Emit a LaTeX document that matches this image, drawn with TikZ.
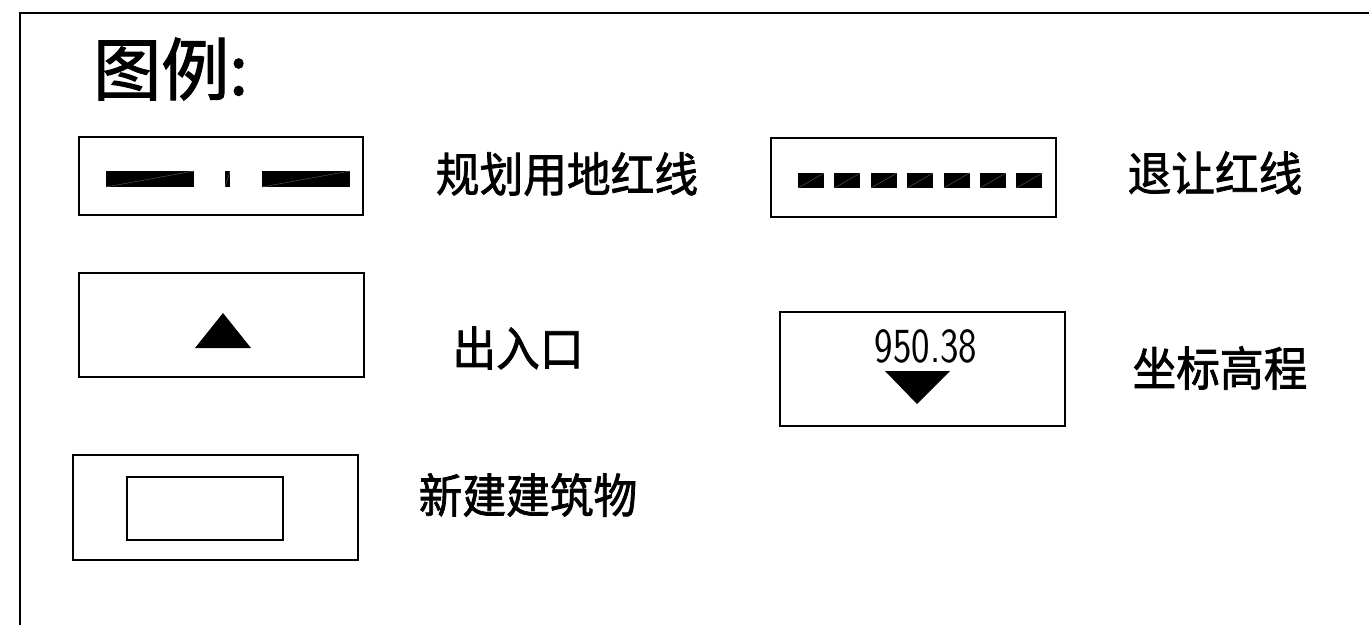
\documentclass[tikz,border=0pt]{standalone}
\usepackage{fontspec}
\usepackage{graphicx}
\newfontfamily\cjk[FakeBold=1.6]{Noto Sans CJK SC}
\tikzset{>=latex}
\tikzset{
  legbox/.style={draw, line width=1.6pt, inner sep=0pt},
  legtext/.style={font=\cjk\fontsize{47}{50}\selectfont, inner sep=0pt},
  hatch/.style={black!55, line width=0.3pt}
}

\begin{document}
\begin{tikzpicture}[x=1pt,y=-1pt]
  \useasboundingbox (0,0) rectangle (1369,625);
  % frame
  \draw[line width=1.6pt] (20,625) -- (20,13) -- (1369,13);
  % title
  \node[font=\cjk\fontsize{68}{70}\selectfont, inner sep=0pt, anchor=west] (title) at (93,69) {图例:};

  % planning red line
  \node[legbox, minimum width=284, minimum height=78] (plan) at (221,176) {};
  \foreach \a/\b in {106/194, 225/230, 262/350} {%
    \fill (\a,171) rectangle (\b,187);
    \draw[hatch] (\a,187) -- (\b,171);
  }
  \node[legtext] (plantxt) at (567,174) {\scalebox{0.93}[1]{规划用地红线}};

  % setback line
  \node[legbox, minimum width=285, minimum height=79] (setback) at (913.5,177.5) {};
  \foreach \i in {0,...,6} {%
    \fill ({798+36.4*\i},173) rectangle ++(26,15);
    \draw[hatch] ({798+36.4*\i},188) -- ++(26,-15);
  }
  \node[legtext] (setbacktxt) at (1215,173) {\scalebox{0.93}[1]{退让红线}};

  % entrance
  \node[legbox, minimum width=285, minimum height=104] (gate) at (221.5,325) {};
  \fill (195,348) -- (223,313) -- (251,348) -- cycle;
  \node[legtext] (gatetxt) at (518,348) {\scalebox{0.93}[1]{出入口}};

  % elevation
  \node[legbox, minimum width=285, minimum height=114] (elev) at (922.5,369) {};
  \node[inner sep=0pt, font=\sffamily\fontsize{49}{49}\selectfont] (elevval) at (926,346) {\scalebox{0.8}[1]{950.38}};
  \fill (885,371) -- (950,371) -- (917,404) -- cycle;
  \node[legtext] (elevtxt) at (1220,368) {\scalebox{0.93}[1]{坐标高程}};

  % new building
  \node[legbox, minimum width=285, minimum height=105] (bldg) at (215.5,507.5) {};
  \node[legbox, minimum width=156, minimum height=63] (bldgin) at (205,508.5) {};
  \node[legtext] (bldgtxt) at (528,495) {\scalebox{0.93}[1]{新建建筑物}};
\end{tikzpicture}
\end{document}
